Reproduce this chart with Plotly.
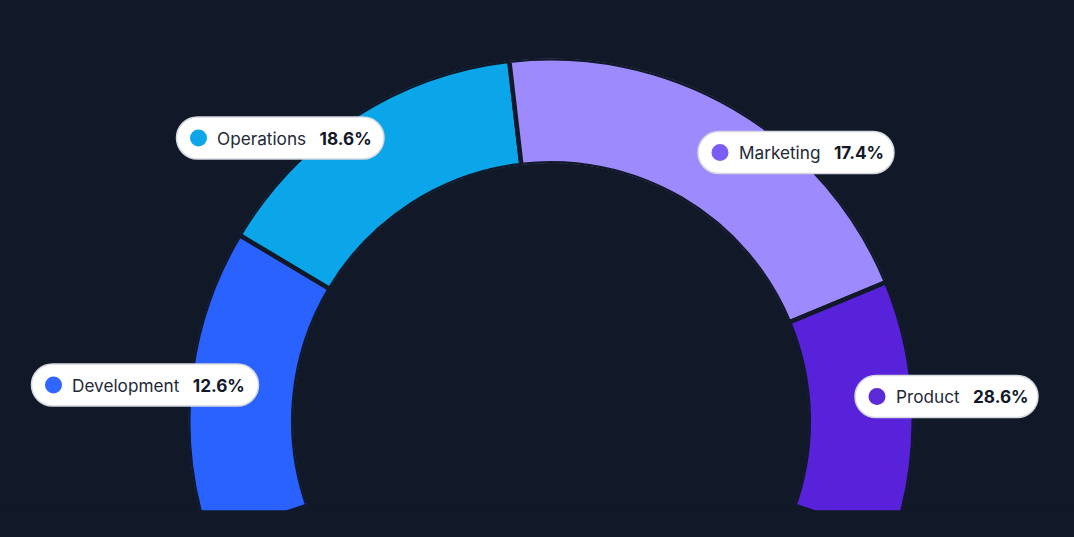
import math
import plotly.graph_objects as go

# ---- data ----
categories = ["Development", "Operations", "Marketing", "Product"]
share_labels = ["12.6%", "18.6%", "17.4%", "28.6%"]
# angular span of each arc segment (degrees, gauge runs from -20 to 200 clockwise from the left)
arc_spans = [50.85, 52.55, 74.1, 42.5]
arc_start = -20.0
seg_colors = ["#2962FF", "#0BA5E9", "#9D8AFC", "#5822DA"]
dot_colors = ["#2F66FF", "#0EA5E9", "#7B5CF5", "#5B2BD8"]

# ---- layout constants ----
W, H = 1074, 537
BG = "#111827"
GAP = 4.5
CX, CY = 551.0, 421.0
R_VIS, R_IN_VIS = 360.5, 260.0
R = R_VIS + GAP / 2
R_IN = R_IN_VIS - GAP / 2
CUT_Y = 510.3

# label pills: (left px, centre y px, width px)
pill_pos = [(31.5, 385.0, 227.0), (176.5, 138.0, 207.5), (698.0, 152.5, 196.0), (855.0, 396.5, 183.0)]
PILL_H = 42.0

# theta centres from cumulative spans
mids, acc = [], arc_start
for s in arc_spans:
    mids.append(acc + s / 2)
    acc += s

# polar sector fitting the canvas
sin_a = min((H - CY) / R, 0.999)
a = math.degrees(math.asin(sin_a))
dom_x = [(CX - R) / W, (CX + R) / W]
dom_y = [0.0, 1 - (CY - R) / H]

fig = go.Figure()
fig.add_trace(go.Barpolar(
    r=[1] * len(categories), theta=mids, width=arc_spans,
    marker=dict(color=seg_colors, line=dict(color=BG, width=GAP)),
    hoverinfo="skip", showlegend=False,
))


def px2x(px):
    return px / W


def px2y(py):
    return 1 - py / H


def pill_path(w, h):
    r = h / 2
    k = 0.5523 * r
    hw, hh = w / 2, h / 2
    return (f"M {-hw + r},{-hh} L {hw - r},{-hh} "
            f"C {hw - r + k},{-hh} {hw},{-k} {hw},0 "
            f"C {hw},{k} {hw - r + k},{hh} {hw - r},{hh} "
            f"L {-hw + r},{hh} "
            f"C {-hw + r - k},{hh} {-hw},{k} {-hw},0 "
            f"C {-hw},{-k} {-hw + r - k},{-hh} {-hw + r},{-hh} Z")


shapes = [
    dict(type="rect", xref="paper", yref="paper", x0=0, x1=1, y0=0, y1=px2y(CUT_Y),
         fillcolor=BG, line=dict(width=0), layer="above"),
]
annotations = []
for name, pct, dc, (left, cy, w) in zip(categories, share_labels, dot_colors, pill_pos):
    shapes.append(dict(type="path", xref="paper", yref="paper", xsizemode="pixel", ysizemode="pixel",
                       xanchor=px2x(left + w / 2), yanchor=px2y(cy), path=pill_path(w, PILL_H),
                       fillcolor="#FFFFFF", line=dict(color="#D5D8DE", width=1.5), layer="above"))
    shapes.append(dict(type="circle", xref="paper", yref="paper", xsizemode="pixel", ysizemode="pixel",
                       xanchor=px2x(left), yanchor=px2y(cy), x0=22 - 8.5, x1=22 + 8.5, y0=-8.5, y1=8.5,
                       fillcolor=dc, line=dict(width=0), layer="above"))
    annotations.append(dict(
        xref="paper", yref="paper", x=px2x(left), y=px2y(cy), xshift=38.5, xanchor="left", yanchor="middle",
        showarrow=False,
        text=f"<span style='color:#1F2937'>{name}</span>\u00a0\u2002<b style='color:#111827'>{pct}</b>",
        font=dict(family="Inter, Noto Sans, sans-serif", size=17.2, color="#1F2937"),
    ))

fig.update_layout(
    width=W, height=H, margin=dict(l=0, r=0, t=0, b=0),
    paper_bgcolor=BG, plot_bgcolor=BG, showlegend=False,
    polar=dict(
        domain=dict(x=dom_x, y=dom_y),
        sector=[-a, 180 + a],
        hole=R_IN / R,
        bgcolor="rgba(0,0,0,0)",
        radialaxis=dict(visible=False, range=[0, 1]),
        angularaxis=dict(visible=False, rotation=180, direction="clockwise",
                         showgrid=False, showline=False, showticklabels=False, ticks=""),
    ),
    shapes=shapes,
    annotations=annotations,
)

fig.write_html("out.html")
